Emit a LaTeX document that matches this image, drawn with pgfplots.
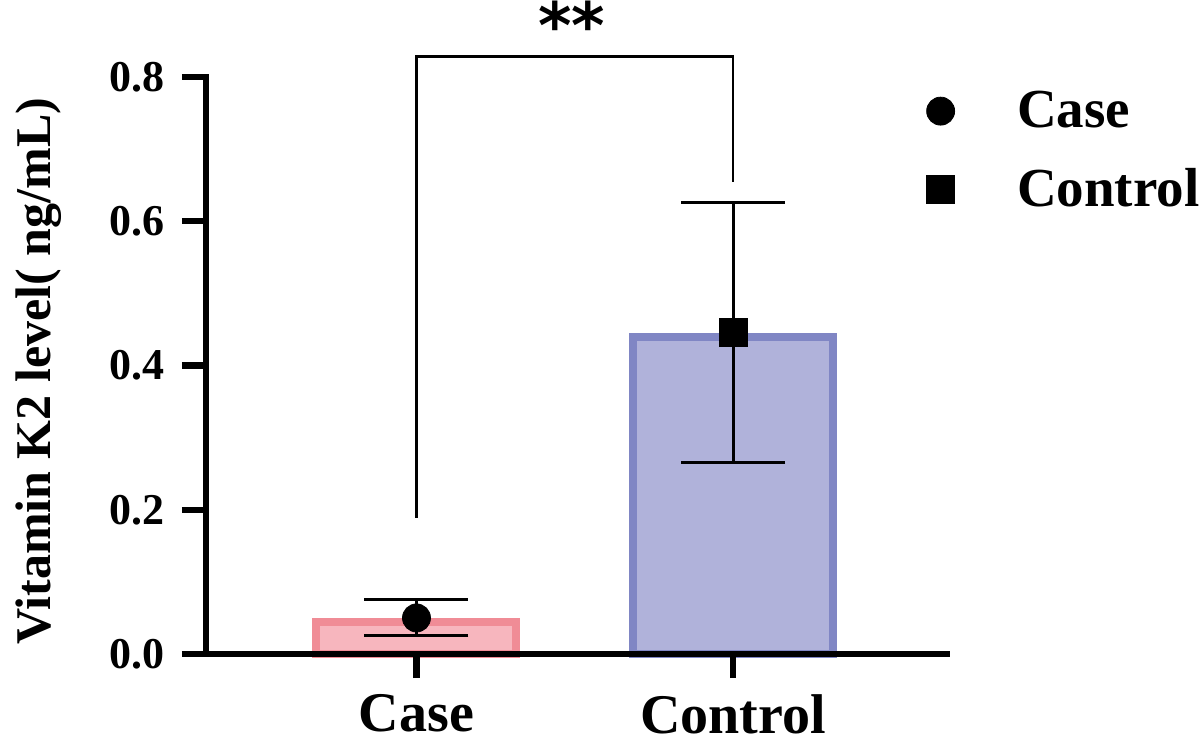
\documentclass[border=0pt]{standalone}
\usepackage{pgfplots}
\pgfplotsset{compat=1.18}
\usepackage{fontspec}
\setmainfont{Liberation Serif}
\newfontfamily\astfont{DejaVu Sans}
\definecolor{casefill}{RGB}{247,182,190}
\definecolor{caseedge}{RGB}{240,140,150}
\definecolor{ctrlfill}{RGB}{176,178,218}
\definecolor{ctrledge}{RGB}{128,134,196}
\begin{document}
\begin{tikzpicture}
\begin{axis}[
  at={(0pt,0pt)}, anchor=south west,
  scale only axis, width=370.5pt, height=288.5pt,
  xmin=-0.665, xmax=1.676, ymin=0, ymax=0.8,
  axis lines*=left,
  axis line style={line width=3.2pt, black, line cap=rect},
  axis on top,
  clip=false,
  xtick={0,1}, xticklabels={Case,Control},
  ytick={0,0.2,0.4,0.6,0.8},
  tick align=outside, major tick length=12pt,
  tick style={line width=3.2pt, black},
  /pgf/number format/assume math mode=true,
  yticklabel style={font=\fontsize{22}{26}\selectfont\bfseries, xshift=-5pt,
    /pgf/number format/fixed, /pgf/number format/fixed zerofill,
    /pgf/number format/precision=1},
  xticklabel style={font=\fontsize{28}{32}\selectfont\bfseries, inner sep=0pt, text depth=0pt, yshift=-8pt},
  ylabel={Vitamin K2 level( ng/mL)},
  ylabel style={font=\fontsize{25}{30}\selectfont\bfseries,
    at={(axis description cs:-0.21,0.49)}, anchor=base, rotate=0},
  legend cell align=left,
  legend image code/.code={\draw[#1] plot coordinates {(0pt,0pt)}; \path (-7pt,0pt) (36pt,0pt);},
  legend style={draw=none, fill=none, inner sep=0pt, outer sep=0pt,
    at={(axis description cs:0.972,0.982)}, anchor=north west,
    font=\fontsize{27.5}{32}\selectfont\bfseries, row sep=15pt},
]
\addplot[ybar, bar width=100pt, bar shift=0pt, fill=casefill, draw=caseedge, line width=4pt, forget plot]
  coordinates {(0,0.044)};
\addplot[ybar, bar width=100pt, bar shift=0pt, fill=ctrlfill, draw=ctrledge, line width=4pt, forget plot]
  coordinates {(1,0.44)};
\addplot[draw=none, mark=none, forget plot,
  error bars/.cd, y dir=both, y explicit,
  error bar style={line width=1.5pt, black},
  error mark options={rotate=90, line width=1.5pt, mark size=26pt, black}]
  coordinates {(0,0.05) +- (0,0.025) (1,0.446) +- (0,0.18)};
\addplot[only marks, mark=*, mark size=7pt, black] coordinates {(0,0.05)};
\addlegendentry{Case}
\addplot[only marks, mark=square*, mark size=7pt, black] coordinates {(1,0.446)};
\addlegendentry{Control}
\draw[line width=1.4pt, line join=miter] (axis cs:0,0.189) -- (axis cs:0,0.828) -- (axis cs:1,0.828) -- (axis cs:1,0.655);
\node[anchor=base, font=\fontsize{32}{36}\selectfont\bfseries\astfont, inner sep=0pt] at (axis cs:0.491,0.84) {**};
\end{axis}
\pgfresetboundingbox
\useasboundingbox (-103pt,-46pt) rectangle (497pt,327pt);
\end{tikzpicture}
\end{document}
